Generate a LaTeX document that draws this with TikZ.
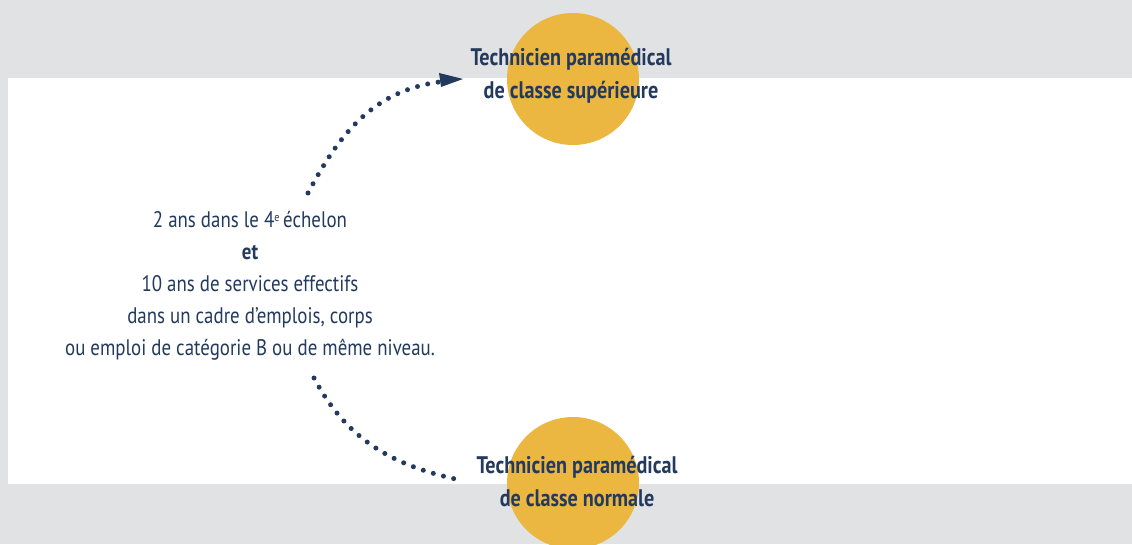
\documentclass[tikz,border=0pt]{standalone}
\usepackage{fontspec}
\setmainfont{PT Sans}[FakeStretch=0.84]
\usetikzlibrary{positioning, arrows.meta}
\definecolor{gradenavy}{HTML}{233A5E}
\definecolor{gradegold}{HTML}{EBB740}
\definecolor{pagegray}{HTML}{E1E2E4}

\begin{document}
\begin{tikzpicture}[
    x=1pt, y=1pt,
    gradedisc/.style={draw=none, circle, fill=gradegold, minimum size=132pt, inner sep=0pt},
    gradelbl/.style={draw=none, rectangle, text=gradenavy, font=\fontsize{24}{33}\selectfont\bfseries, align=center, inner sep=0pt},
    condlbl/.style={draw=none, rectangle, text=gradenavy, font=\fontsize{22.5}{32}\selectfont, align=center, inner sep=0pt},
    dotpath/.style={gradenavy, line width=5pt, line cap=round, dash pattern=on 0pt off 10.5pt},
]
\useasboundingbox (0,0) rectangle (1132,544);
\fill[pagegray] (0,0) rectangle (1132,544);
\fill[white] (8,60) rectangle (1132,466);

% grades
\node[gradedisc] (supdisc)  at (573, 465) {};
\node[gradedisc] (normdisc) at (573, 61)  {};
\node[gradelbl]  (suplbl)  at (571, 468.5) {Technicien paramédical\\de classe supérieure};
\node[gradelbl]  (normlbl) at (577, 62.5)  {Technicien paramédical\\de classe normale};

% promotion condition
\node[condlbl] (cond) at (250, 258) {2 ans dans le 4\raisebox{6pt}{\fontsize{12}{12}\selectfont e}\,échelon\\\textbf{et}\\10 ans de services effectifs\\dans un cadre d’emplois, corps\\ou emploi de catégorie B ou de même niveau.};

% dotted arcs
\coordinate (upstart) at (308, 351);
\coordinate (uptip)   at (463, 465);
\coordinate (lowstart) at (314, 166);
\coordinate (lowend)   at (460, 64);
\draw[dotpath] (upstart) to[out=62, in=188] ([xshift=-24pt, yshift=-3pt]uptip);
\fill[gradenavy] (uptip) -- ++(-24, 6) -- ++(2, -14) -- cycle;
\draw[dotpath] (lowstart) to[out=-62, in=168] (lowend);
\end{tikzpicture}
\end{document}
